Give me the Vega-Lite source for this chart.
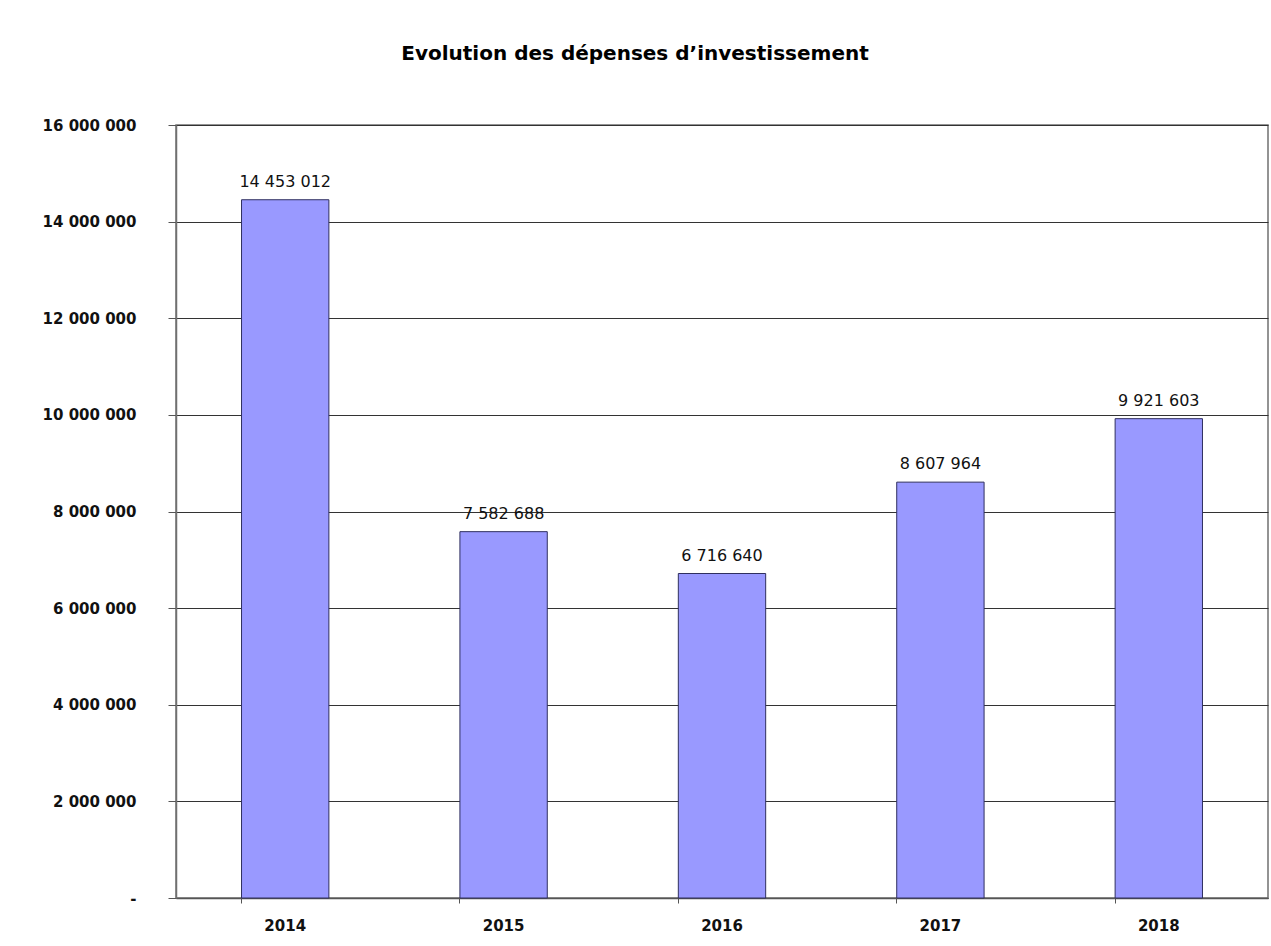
{
  "$schema": "https://vega.github.io/schema/vega-lite/v6.json",
  "width": 1092,
  "height": 773,
  "autosize": {"type": "none"},
  "padding": {"left": 176, "top": 125, "right": 3, "bottom": 48},
  "background": "white",
  "title": {
    "text": "Evolution des dépenses d’investissement",
    "font": "DejaVu Sans",
    "fontSize": 20,
    "fontWeight": "bold",
    "color": "#000000",
    "anchor": "middle",
    "frame": "group",
    "dx": -87,
    "offset": 54
  },
  "config": {
    "locale": {"number": {"decimal": ",", "thousands": " ", "grouping": [3], "currency": ["", " €"]}},
    "view": {"stroke": "#707070", "strokeWidth": 1.5},
    "font": "DejaVu Sans"
  },
  "data": {
    "values": [
      {"annee": "2014", "montant": 14453012},
      {"annee": "2015", "montant": 7582688},
      {"annee": "2016", "montant": 6716640},
      {"annee": "2017", "montant": 8607964},
      {"annee": "2018", "montant": 9921603}
    ]
  },
  "encoding": {
    "x": {
      "field": "annee",
      "type": "nominal",
      "scale": {"paddingInner": 0.6, "paddingOuter": 0.3},
      "axis": {
        "title": null,
        "labelAngle": 0,
        "labelFont": "DejaVu Sans",
        "labelFontSize": 15,
        "labelFontWeight": "bold",
        "labelColor": "#111111",
        "labelPadding": 15,
        "bandPosition": 0,
        "tickSize": 5,
        "tickColor": "#555555",
        "domainColor": "#555555",
        "domainWidth": 1.5,
        "grid": false
      }
    },
    "y": {
      "field": "montant",
      "type": "quantitative",
      "scale": {"domain": [0, 16000000], "nice": false},
      "axis": {
        "title": null,
        "values": [0, 2000000, 4000000, 6000000, 8000000, 10000000, 12000000, 14000000, 16000000],
        "format": ",d",
        "labelExpr": "datum.value == 0 ? '-' : datum.label",
        "labelFont": "DejaVu Sans",
        "labelFontSize": 15,
        "labelFontWeight": "bold",
        "labelColor": "#111111",
        "labelPadding": 32,
        "tickSize": 8,
        "tickColor": "#555555",
        "domainColor": "#707070",
        "domainWidth": 1.5,
        "grid": true,
        "gridColor": "#333333",
        "gridWidth": 1,
        "gridOpacity": 1
      }
    }
  },
  "layer": [
    {
      "mark": {"type": "bar", "fill": "#9999ff", "stroke": "#2f2f5f", "strokeWidth": 1}
    },
    {
      "mark": {"type": "text", "baseline": "bottom", "dy": -10, "font": "DejaVu Sans", "fontSize": 16, "color": "#111111"},
      "encoding": {"text": {"field": "montant", "type": "quantitative", "format": ",d"}}
    }
  ]
}
